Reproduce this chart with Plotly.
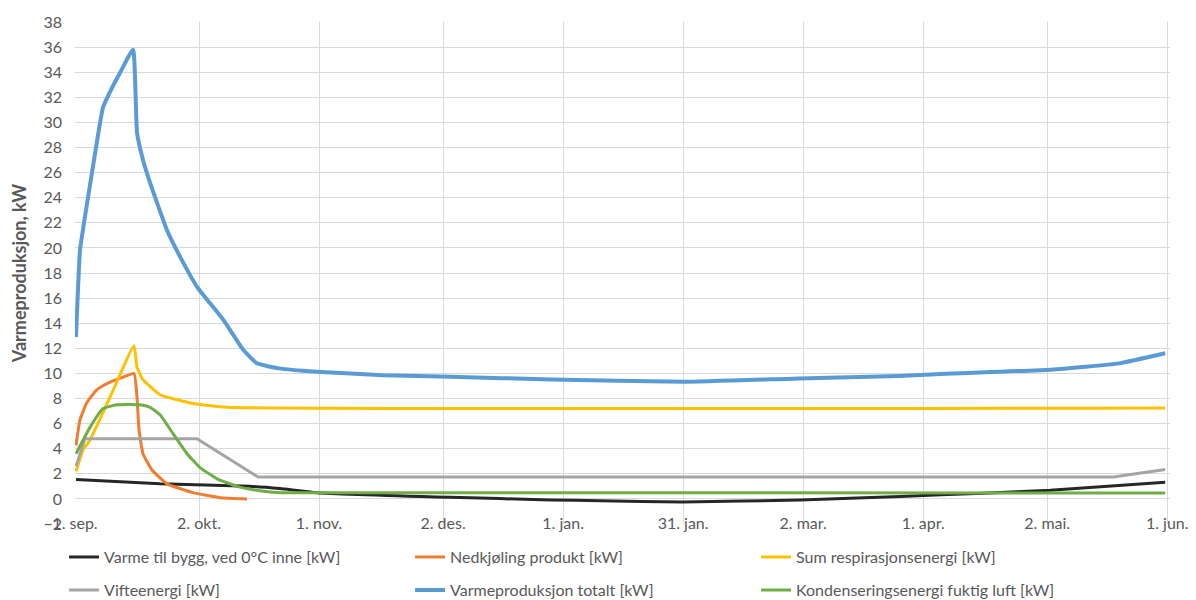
import pandas as pd
import plotly.graph_objects as go

START = pd.Timestamp("2017-09-01")

# Tick dates and their labels
tick_dates = ["2017-09-01", "2017-10-02", "2017-11-01", "2017-12-02", "2018-01-01",
              "2018-01-31", "2018-03-02", "2018-04-01", "2018-05-02", "2018-06-01"]
tick_labels = ["1. sep.", "2. okt.", "1. nov.", "2. des.", "1. jan.",
               "31. jan.", "2. mar.", "1. apr.", "2. mai.", "1. jun."]

# Each series: days after 1 Sep and value in kW
bygg_days = [0.25, 21.25, 43.75, 51.25, 60.5, 93.75, 118.75, 131.25, 152, 181.25, 206.25, 227, 243.75, 272.5]
bygg_kw = [1.55, 1.2, 1.0, 0.82, 0.5, 0.13, -0.08, -0.15, -0.25, -0.08, 0.2, 0.45, 0.68, 1.33]

nedkj_days = [0.25, 1.25, 3, 5.5, 8.75, 12, 14.75, 15.5, 16, 17, 19.25, 23, 29.5, 36.25, 43]
nedkj_kw = [4.26, 6.3, 7.7, 8.7, 9.3, 9.7, 10.0, 8.1, 5.5, 3.6, 2.3, 1.2, 0.5, 0.1, 0.0]

resp_days = [0.25, 2, 3.75, 8.75, 14.75, 15.5, 17, 21.25, 29.5, 38, 272.5]
resp_kw = [2.2, 3.9, 4.7, 8.1, 12.2, 10.5, 9.5, 8.3, 7.6, 7.3, 7.25]

vifte_days = [0.25, 2.5, 30.5, 45.75, 259.5, 272.5]
vifte_kw = [2.6, 4.8, 4.8, 1.75, 1.75, 2.35]

total_days = [0.25, 1.25, 2.5, 4.5, 7, 9, 11.5, 14.5, 15.5, 17, 18.75, 23, 26.25,
              30.5, 37, 42, 45.5, 51, 60.5, 77, 94, 119, 152, 181, 206, 219, 244, 261, 272.5]
total_kw = [12.9, 19.8, 22.5, 26.5, 31.2, 32.6, 34.1, 35.8, 29.2, 27.0, 25.2, 21.4, 19.3,
            16.9, 14.3, 11.9, 10.8, 10.4, 10.13, 9.86, 9.73, 9.52, 9.33, 9.6, 9.8, 10.0, 10.3, 10.8, 11.6]

kond_days = [0.25, 3.75, 7, 10.5, 16.25, 18.75, 21.25, 24.5, 28, 31.25, 35.5, 40.5, 46.25, 51.25, 272.5]
kond_kw = [3.6, 5.7, 7.2, 7.5, 7.5, 7.3, 6.7, 5.2, 3.6, 2.5, 1.6, 1.0, 0.65, 0.5, 0.47]

series = [
    ("Varme til bygg, ved 0°C inne [kW]", bygg_days, bygg_kw, "#262626", 3, "legend", "spline"),
    ("Nedkjøling produkt [kW]", nedkj_days, nedkj_kw, "#ED7D31", 3, "legend", "spline"),
    ("Sum respirasjonsenergi [kW]", resp_days, resp_kw, "#FFC000", 3, "legend", "spline"),
    ("Vifteenergi [kW]", vifte_days, vifte_kw, "#A5A5A5", 3, "legend2", "linear"),
    ("Varmeproduksjon totalt [kW]", total_days, total_kw, "#5B9BD5", 4, "legend2", "spline"),
    ("Kondenseringsenergi fuktig luft [kW]", kond_days, kond_kw, "#70AD47", 3, "legend2", "spline"),
]

FONT = "Lato"
GREY = "#595959"

fig = go.Figure()
for name, days, vals, color, width, leg, shape in series:
    x = [START + pd.Timedelta(days=d) for d in days]
    fig.add_trace(go.Scatter(
        x=x, y=vals, name=name, mode="lines", legend=leg,
        line=dict(color=color, width=width, shape=shape, smoothing=0.4),
    ))

legend_common = dict(
    orientation="h", xanchor="left", yanchor="top",
    font=dict(family=FONT, size=16, color=GREY),
    entrywidth=301, entrywidthmode="pixels",
    bgcolor="rgba(0,0,0,0)", itemwidth=30,
)

fig.update_layout(
    width=1196, height=600,
    margin=dict(l=75, r=26, t=22, b=76, autoexpand=False),
    paper_bgcolor="white", plot_bgcolor="white",
    font=dict(family=FONT, size=16, color=GREY),
    showlegend=True,
    legend=dict(x=-0.01, y=-0.032, **legend_common),
    legend2=dict(x=-0.01, y=-0.098, **legend_common),
    xaxis=dict(
        type="date",
        range=[START, START + pd.Timedelta(days=273.7)],
        tickmode="array", tickvals=tick_dates, ticktext=tick_labels,
        showgrid=True, gridcolor="#D9D9D9", gridwidth=1,
        zeroline=False, showline=False, ticks="",
        ticklabelstandoff=-12,
        tickfont=dict(family=FONT, size=16, color=GREY),
    ),
    yaxis=dict(
        range=[-2, 38], dtick=2, tick0=0,
        showgrid=True, gridcolor="#D9D9D9", gridwidth=1,
        zeroline=False, showline=False, ticks="",
        ticklabelstandoff=12,
        tickfont=dict(family=FONT, size=16, color=GREY),
        title=dict(text="<b>Varmeproduksjon, kW</b>", standoff=12,
                   font=dict(family=FONT, size=18, color=GREY)),
    ),
)

fig.write_html("out.html")
